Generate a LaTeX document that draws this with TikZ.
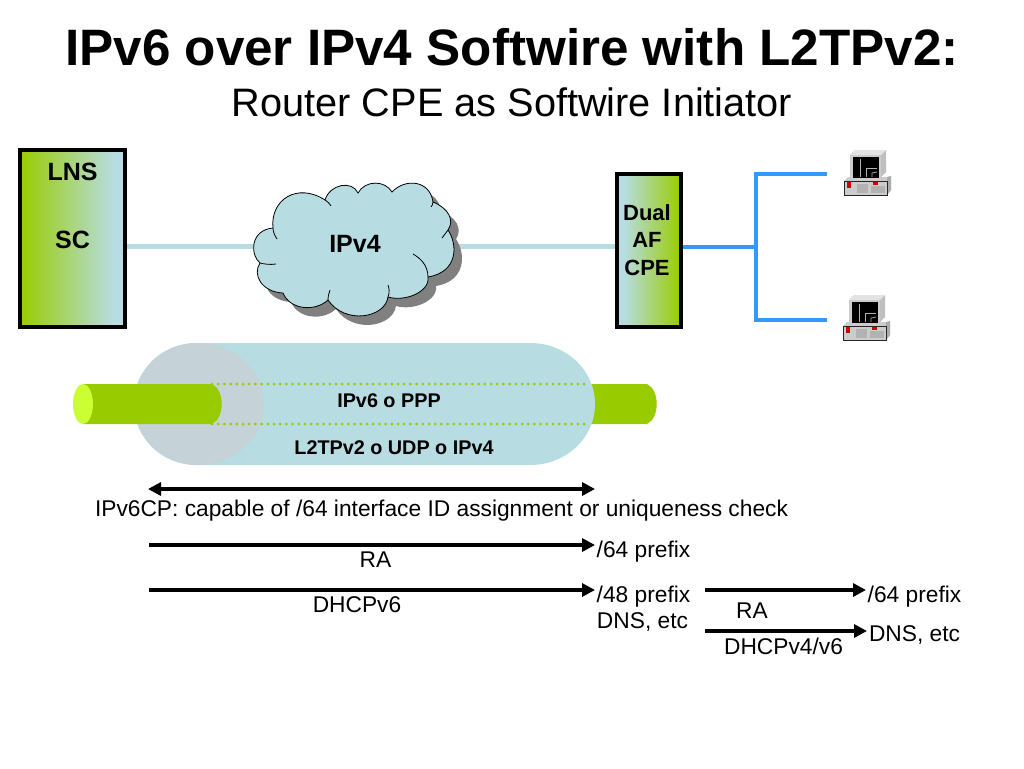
\documentclass[tikz,border=0pt]{standalone}
\usepackage{fontspec}
\setmainfont{Liberation Sans}
\usetikzlibrary{arrows.meta}
\definecolor{lblue}{HTML}{B7DDE3}
\definecolor{lgreen}{HTML}{99CC00}
\definecolor{lime}{HTML}{CCFF33}
\definecolor{netblue}{HTML}{3399FF}
\definecolor{tunnelend}{HTML}{C5D3D8}
\pgfdeclarehorizontalshading{gbshade}{100bp}{color(0bp)=(lgreen);color(25bp)=(lgreen);color(70bp)=(lblue);color(100bp)=(lblue)}
\pgfdeclarehorizontalshading{bgshade}{100bp}{color(0bp)=(lblue);color(30bp)=(lblue);color(75bp)=(lgreen);color(100bp)=(lgreen)}
\newcommand{\cloudoutline}{(273,228) .. controls (270,200) and (297,182) .. (325,200)
 .. controls (330,184) and (352,180) .. (358,193)
 .. controls (365,180) and (385,180) .. (392,192)
 .. controls (405,178) and (430,180) .. (433,202)
 .. controls (448,208) and (455,220) .. (448,230)
 .. controls (458,245) and (458,272) .. (428,277)
 .. controls (430,292) and (405,302) .. (388,297)
 .. controls (385,318) and (345,325) .. (328,300)
 .. controls (315,312) and (290,310) .. (283,293)
 .. controls (262,292) and (252,275) .. (260,263)
 .. controls (250,255) and (250,230) .. (273,228) -- cycle}
\tikzset{
  x=1pt,y=-1pt,
  every node/.style={inner sep=0pt,outer sep=0pt,align=center},
  devbox/.style={draw=black,line width=4pt,minimum width=105pt,anchor=center},
  lan/.style={draw=netblue,line width=4pt},
  wan/.style={draw=lblue,line width=4.2pt},
  msg/.style={draw=black,line width=3.8pt,-{Triangle[length=13pt,width=13pt]}},
  msgboth/.style={draw=black,line width=3.8pt,{Triangle[length=13pt,width=13pt]}-{Triangle[length=13pt,width=13pt]}},
  lbl/.style={font=\fontsize{22.75}{26}\selectfont},
  blbl/.style={font=\fontsize{25}{29}\selectfont\bfseries},
  tlbl/.style={font=\fontsize{19.8}{23}\selectfont\bfseries},
  pipe/.style={fill=lgreen,draw=none},
  dots/.style={draw=lgreen,line width=3pt,line cap=round,dash pattern=on 0pt off 6.2pt},
  pc/.pic={
    \fill[gray!40] (9,41) -- (13,37) -- (53,37) -- (56,36) -- (56,50) -- (52,55) -- (9,55) -- cycle;
    \fill[gray!65] (52,37) -- (56,36) -- (56,50) -- (52,55) -- cycle;
    \draw[gray!30!black,line width=.5pt] (9,41) -- (52,41) -- (52,55) -- (9,55) -- cycle;
    \fill[gray!60] (22,44) rectangle (33,53);
    \fill[gray!60] (36,46) rectangle (50,53);
    \fill[red!80!black] (12,42) rectangle (16,48);
    \fill[red!80!black] (38,42) rectangle (43,45);
    \fill[gray!50] (15,15) -- (20,10) -- (51,10) -- (51,32) -- (46,37) -- (46,15) -- cycle;
    \fill[gray!22] (15,15) -- (20,10) -- (51,10) -- (46,15) -- cycle;
    \fill[gray!40] (15,15) rectangle (46,38);
    \fill[black] (18,17) rectangle (44,38);
    \draw[gray!60,line width=.7pt] (25,37) -- (25,19);
    \draw[gray!60,line width=.7pt] (31,37) -- (31,28) -- (42,28);
    \draw[gray!60,line width=.7pt] (37,37) -- (37,33) -- (42,32);
  }
}
\begin{document}
\begin{tikzpicture}
\useasboundingbox (0,0) rectangle (1024,768);
\node[font=\fontsize{51.2}{56}\selectfont\bfseries] (title) at (512,47) {IPv6 over IPv4 Softwire with L2TPv2:};
\node[font=\fontsize{39.7}{42}\selectfont] (subtitle) at (512,102.5) {Router CPE as Softwire Initiator};
\coordinate (wanL) at (125,246.5);
\coordinate (wanR) at (617,246.5);
\coordinate (lanL) at (682,246.5);
\coordinate (lanJ) at (756,246.5);
\coordinate (lanT) at (756,174);
\coordinate (lanB) at (756,319.5);
\coordinate (pcT) at (827,174);
\coordinate (pcB) at (827,319.5);
\draw[wan] (wanL) -- (wanR);
\draw[lan] (lanL) -- (lanJ);
\draw[lan,line cap=rect] (lanT) -- (lanB);
\draw[lan] (lanT) -- (pcT);
\draw[lan] (lanB) -- (pcB);
\node[devbox,shading=gbshade,minimum width=105pt,minimum height=177pt] (lns) at (72.5,238.5) {};
\node[blbl] (lnstext) at (72.5,172) {LNS};
\node[blbl] (sctext) at (72.5,240) {SC};
\node[devbox,shading=bgshade,minimum width=64pt,minimum height=153pt] (cpe) at (649,250.5) {};
\node[font=\fontsize{22}{27.5}\selectfont\bfseries] (cpetext) at (647,240) {Dual\\AF\\CPE};
\fill[gray!75!black!80] [shift={(8,9)}] \cloudoutline;
\draw[fill=lblue,draw=black,line width=.8pt] \cloudoutline;
\draw[line width=.8pt] (448,230) -- (442,238);
\draw[line width=.8pt] (428,277) .. controls (428,265) and (420,258) .. (413,254);
\draw[line width=.8pt] (388,297) .. controls (390,292) and (389,288) .. (388,285);
\draw[line width=.8pt] (328,300) .. controls (328,296) and (329,293) .. (330,290);
\draw[line width=.8pt] (260,263) .. controls (264,264) and (270,265) .. (276,264);
\draw[line width=.8pt] (273,228) .. controls (273,232) and (275,236) .. (277,239);
\draw[line width=.8pt] (325,200) .. controls (328,202) and (330,204) .. (331,206);
\draw[line width=.8pt] (433,202) .. controls (433,204) and (432,206) .. (431,207);
\node[blbl] (ipv4) at (355,243.5) {IPv4};
\pic (pcA) at (835,140) {pc};
\pic (pcC) at (834,285) {pc};
% tunnel
\fill[pipe] (590,384) -- (647,384) .. controls (660,390) and (660,418) .. (647,424) -- (590,424) -- cycle;
\fill[lblue] (197,343) -- (530,343) .. controls (566,343) and (595,370) .. (595,404) .. controls (595,438) and (566,465) .. (530,465) -- (197,465) .. controls (162,465) and (134,438) .. (134,404) .. controls (134,370) and (162,343) .. (197,343) -- cycle;
\fill[tunnelend] (197,343) .. controls (234,343) and (264,370) .. (264,404) .. controls (264,438) and (234,465) .. (197,465) .. controls (162,465) and (134,438) .. (134,404) .. controls (134,370) and (162,343) .. (197,343) -- cycle;
\coordinate (dotAL) at (212,384);
\coordinate (dotAR) at (590,384);
\coordinate (dotBL) at (212,424);
\coordinate (dotBR) at (590,424);
\draw[dots] (dotAL) -- (dotAR);
\draw[dots] (dotBL) -- (dotBR);
\fill[pipe] (83,384) -- (212,384) .. controls (225,390) and (225,418) .. (212,424) -- (83,424) -- cycle;
\fill[lime] (83,404) ellipse[x radius=10,y radius=20];
\node[tlbl] (ppp) at (389,401) {IPv6 o PPP};
\node[tlbl] (l2tp) at (394,448) {L2TPv2 o UDP o IPv4};
\coordinate (a1) at (148,489);
\coordinate (a2) at (595,489);
\coordinate (b1) at (149,545);
\coordinate (b2) at (595,545);
\coordinate (c1) at (149,590);
\coordinate (c2) at (595,590);
\coordinate (d1) at (705,590);
\coordinate (d2) at (866,590);
\coordinate (e1) at (705,631);
\coordinate (e2) at (867,631);
\draw[msgboth] (a1) -- (a2);
\draw[msg] (b1) -- (b2);
\draw[msg] (c1) -- (c2);
\draw[msg] (d1) -- (d2);
\draw[msg] (e1) -- (e2);
\node[lbl] (t1) at (441.5,511) {IPv6CP: capable of /64 interface ID assignment or uniqueness check};
\node[lbl] (t2) at (375.5,560) {RA};
\node[lbl] (t3) at (643.5,552) {/64 prefix};
\node[lbl] (t4) at (357,605) {DHCPv6};
\node[lbl] (t5) at (643.5,597) {/48 prefix};
\node[lbl] (t6) at (642.5,622.5) {DNS, etc};
\node[lbl] (t7) at (752,611) {RA};
\node[lbl] (t8) at (783.5,646) {DHCPv4/v6};
\node[lbl] (t9) at (914.5,597) {/64 prefix};
\node[lbl] (t10) at (914.5,635.5) {DNS, etc};
\end{tikzpicture}
\end{document}
